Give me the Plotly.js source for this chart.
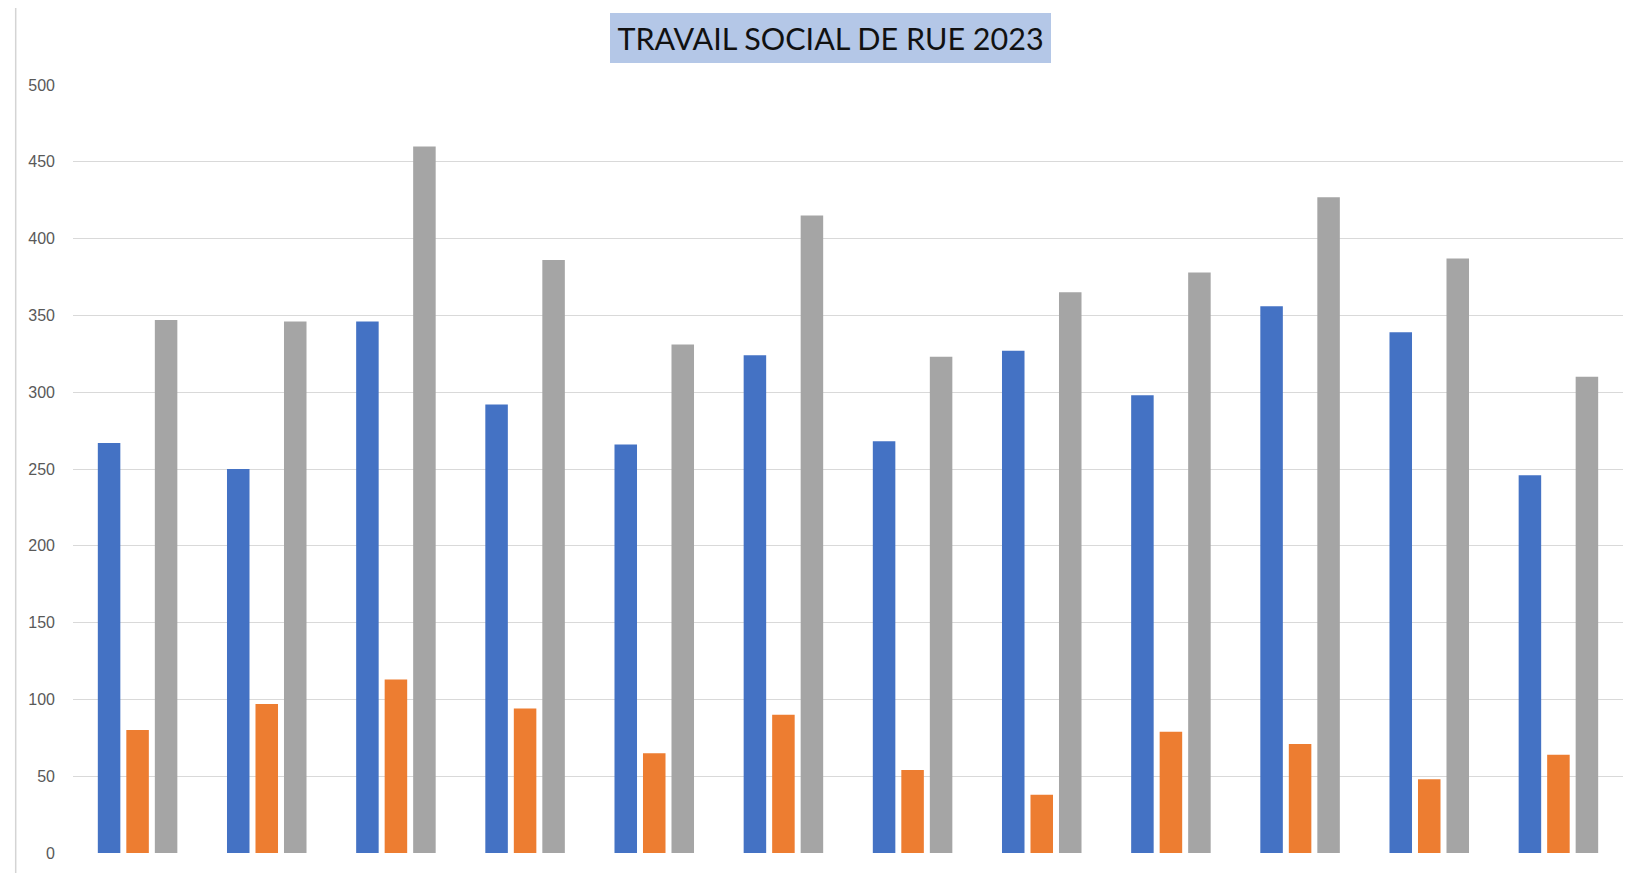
<!DOCTYPE html>
<html>
<head>
<meta charset="utf-8">
<script src="https://cdn.plot.ly/plotly-3.0.1.min.js"></script>
<style>
  html, body { margin: 0; padding: 0; background: #ffffff; }
  #chart { width: 1630px; height: 873px; }
</style>
</head>
<body>
<div id="chart"></div>
<script>
// Catégories (mois 2023) — les étiquettes ne sont pas affichées dans l'original
const categories = ["Janvier", "Février", "Mars", "Avril", "Mai", "Juin",
                    "Juillet", "Août", "Septembre", "Octobre", "Novembre", "Décembre"];

// Séries
const serie1 = [267, 250, 346, 292, 266, 324, 268, 327, 298, 356, 339, 246];
const serie2 = [80, 97, 113, 94, 65, 90, 54, 38, 79, 71, 48, 64];
const serie3 = [347, 346, 460, 386, 331, 415, 323, 365, 378, 427, 387, 310];

const seriesNames = ["Série 1", "Série 2", "Série 3"];
const yTicks = [0, 50, 100, 150, 200, 250, 300, 350, 400, 450, 500];
const titleText = "TRAVAIL SOCIAL DE RUE 2023";

const colors = ["#4472c4", "#ed7d31", "#a5a5a5"];

const traces = [serie1, serie2, serie3].map((vals, i) => ({
  type: "bar",
  name: seriesNames[i],
  x: categories,
  y: vals,
  marker: { color: colors[i], line: { width: 0 } },
  hoverinfo: "x+y+name"
}));

const layout = {
  width: 1630,
  height: 873,
  paper_bgcolor: "#ffffff",
  plot_bgcolor: "#ffffff",
  showlegend: false,
  margin: { l: 73, r: 7, t: 85, b: 20, pad: 0 },
  barmode: "group",
  bargap: 0.338,
  bargroupgap: 0.21,
  font: { family: "Liberation Sans, Arial, sans-serif", color: "#595959" },
  xaxis: {
    type: "category",
    showticklabels: false,
    showgrid: false,
    zeroline: false,
    showline: false,
    ticks: ""
  },
  yaxis: {
    range: [0, 500],
    tickvals: yTicks,
    ticktext: yTicks.map(String),
    showgrid: true,
    gridcolor: "#d9d9d9",
    gridwidth: 1,
    zeroline: false,
    showline: false,
    ticks: "",
    ticklabelstandoff: 17,
    tickfont: { family: "Liberation Sans, Arial, sans-serif", size: 16, color: "#595959" }
  },
  annotations: [{
    text: titleText,
    xref: "paper", yref: "paper",
    x: 0.4887, y: 1.0618,
    xanchor: "center", yanchor: "middle",
    showarrow: false,
    bgcolor: "#b4c7e7",
    width: 441, height: 50,
    borderpad: 0, borderwidth: 0,
    font: { family: "Lato, Liberation Sans, sans-serif", size: 30.5, color: "#111111" }
  }],
  shapes: [{
    type: "line",
    xref: "paper", yref: "paper",
    x0: (15.7 - 73) / 1550, x1: (15.7 - 73) / 1550,
    y0: -20 / 768.3, y1: (853.3 - 8) / 768.3,
    line: { color: "#d4d4d4", width: 1.5 }
  }]
};

Plotly.newPlot("chart", traces, layout, { displayModeBar: false, staticPlot: false });
</script>
</body>
</html>
